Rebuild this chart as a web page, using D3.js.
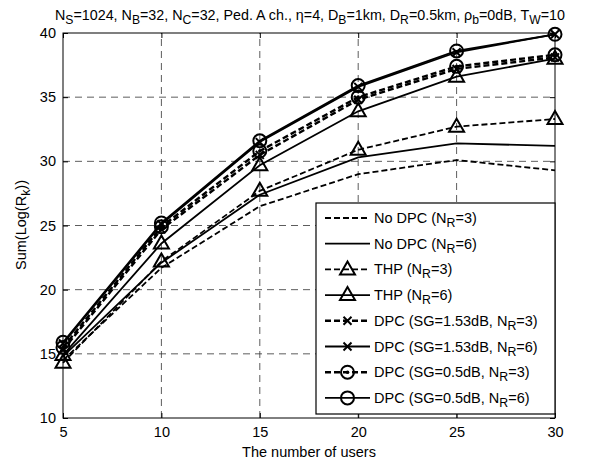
<!DOCTYPE html>
<html>
<head>
<meta charset="utf-8">
<script src="https://cdn.jsdelivr.net/npm/d3@7"></script>
<style>
  body { margin: 0; background: #fff; }
  svg text { font-family: "Liberation Sans", Arial, sans-serif; fill: #000; }
</style>
</head>
<body>
<svg id="chart" width="590" height="464"></svg>
<script>
// data
const users = [5, 10, 15, 20, 25, 30];
const noDpcN3 = [14.5, 21.7, 26.5, 29.0, 30.1, 29.3];
const noDpcN6 = [14.8, 22.1, 27.4, 30.3, 31.4, 31.2];
const thpN3 = [14.3, 22.2, 27.7, 30.9, 32.7, 33.3];
const thpN6 = [14.9, 23.6, 29.7, 33.9, 36.6, 38.0];
const dpc153N3 = [15.3, 24.7, 30.5, 34.8, 37.2, 38.1];
const dpc153N6 = [15.8, 25.1, 31.5, 35.8, 38.5, 39.9];
const dpc05N3 = [15.5, 24.9, 30.8, 35.0, 37.4, 38.3];
const dpc05N6 = [15.9, 25.2, 31.6, 35.9, 38.6, 39.9];

const xTicks = [5, 10, 15, 20, 25, 30];
const yTicks = [10, 15, 20, 25, 30, 35, 40];

const seriesNames = [
  'No DPC (N_{R}=3)', 'No DPC (N_{R}=6)', 'THP (N_{R}=3)', 'THP (N_{R}=6)',
  'DPC (SG=1.53dB, N_{R}=3)', 'DPC (SG=1.53dB, N_{R}=6)',
  'DPC (SG=0.5dB, N_{R}=3)', 'DPC (SG=0.5dB, N_{R}=6)'
];
const seriesValues = [noDpcN3, noDpcN6, thpN3, thpN6, dpc153N3, dpc153N6, dpc05N3, dpc05N6];
const seriesDashed = [true, false, true, false, true, false, true, false];
const seriesMarker = ['none', 'none', 'triangle', 'triangle', 'x', 'x', 'circledot', 'circle'];

const titleText = 'N_{S}=1024, N_{B}=32, N_{C}=32, Ped. A ch., η=4, D_{B}=1km, D_{R}=0.5km, ρ_{b}=0dB, T_{W}=10';

const margin = {left: 63, right: 35, top: 33, bottom: 46};
const width = 590, height = 464;
const fontSize = 14.5;

const svg = d3.select('#chart');

const x = d3.scaleLinear().domain([5, 30]).range([margin.left, width - margin.right]);
const y = d3.scaleLinear().domain([10, 40]).range([height - margin.bottom, margin.top]);

// writes "A_{b}" text with subscripts as tspans
function richText(sel, str) {
  const parts = str.split(/(_\{[^}]*\})/);
  let sub = false;
  parts.forEach(p => {
    if (!p) return;
    if (p.startsWith('_{')) {
      sel.append('tspan').attr('dy', 4).attr('font-size', '0.85em').text(p.slice(2, -1));
      sub = true;
    } else {
      sel.append('tspan').attr('dy', sub ? -4 : 0).text(p);
      sub = false;
    }
  });
  return sel;
}

// grid
const grid = svg.append('g').attr('stroke', '#333').attr('stroke-width', 0.8).attr('stroke-dasharray', '7,5');
grid.selectAll('line.gx').data(xTicks.slice(1, -1)).join('line')
  .attr('x1', d => x(d)).attr('x2', d => x(d))
  .attr('y1', y(10)).attr('y2', y(40));
grid.selectAll('line.gy').data(yTicks.slice(1, -1)).join('line')
  .attr('x1', x(5)).attr('x2', x(30))
  .attr('y1', d => y(d)).attr('y2', d => y(d));

// axes (MATLAB style ticks inward, on all four sides)
svg.append('g').attr('transform', `translate(0,${y(10)})`)
  .call(d3.axisBottom(x).tickValues(xTicks).tickSizeInner(-5).tickSizeOuter(0).tickPadding(9))
  .call(g => g.select('.domain').remove());
svg.append('g').attr('transform', `translate(0,${y(40)})`)
  .call(d3.axisTop(x).tickValues(xTicks).tickSizeInner(-5).tickSizeOuter(0).tickFormat(''))
  .call(g => g.select('.domain').remove());
svg.append('g').attr('transform', `translate(${x(5)},0)`)
  .call(d3.axisLeft(y).tickValues(yTicks).tickSizeInner(-5).tickSizeOuter(0).tickPadding(7))
  .call(g => g.select('.domain').remove());
svg.append('g').attr('transform', `translate(${x(30)},0)`)
  .call(d3.axisRight(y).tickValues(yTicks).tickSizeInner(-5).tickSizeOuter(0).tickFormat(''))
  .call(g => g.select('.domain').remove());
svg.selectAll('.tick text').attr('font-size', fontSize).attr('font-family', '"Liberation Sans", Arial, sans-serif');
svg.selectAll('.tick line').attr('stroke', '#000');

svg.append('rect')
  .attr('x', x(5)).attr('y', y(40))
  .attr('width', x(30) - x(5)).attr('height', y(10) - y(40))
  .attr('fill', 'none').attr('stroke', '#000').attr('stroke-width', 1);

// markers
function drawMarker(g, type, cx, cy) {
  if (type === 'triangle') {
    g.append('path').attr('d', `M${cx},${cy - 8}L${cx + 7.5},${cy + 5}L${cx - 7.5},${cy + 5}Z`)
      .attr('fill', 'none').attr('stroke', '#000').attr('stroke-width', 2);
  } else if (type === 'x') {
    g.append('path').attr('d', `M${cx - 4},${cy - 4}L${cx + 4},${cy + 4}M${cx - 4},${cy + 4}L${cx + 4},${cy - 4}`)
      .attr('stroke', '#000').attr('stroke-width', 2);
  } else if (type === 'circle' || type === 'circledot') {
    g.append('circle').attr('cx', cx).attr('cy', cy).attr('r', 6.5)
      .attr('fill', 'none').attr('stroke', '#000').attr('stroke-width', 2);
    if (type === 'circledot') g.append('circle').attr('cx', cx).attr('cy', cy).attr('r', 1.8).attr('fill', '#000');
  }
}

const line = d3.line().x((d, i) => x(users[i])).y(d => y(d));

seriesValues.forEach((vals, k) => {
  const g = svg.append('g');
  g.append('path').datum(vals)
    .attr('d', line)
    .attr('fill', 'none').attr('stroke', '#000')
    .attr('stroke-width', seriesDashed[k] && k >= 4 ? 2.4 : 1.8)
    .attr('stroke-dasharray', seriesDashed[k] ? '6,3' : null);
  vals.forEach((v, i) => drawMarker(g, seriesMarker[k], x(users[i]), y(v)));
});

// legend
const leg = svg.append('g');
const lx = 316, ly = 203, lw = 239, lh = 211, rowH = 25.7;
leg.append('rect').attr('x', lx).attr('y', ly).attr('width', lw).attr('height', lh)
  .attr('fill', '#fff').attr('stroke', '#000').attr('stroke-width', 1.2);
seriesNames.forEach((name, k) => {
  const cy = ly + 15 + k * rowH;
  const g = leg.append('g');
  g.append('line').attr('x1', lx + 9).attr('x2', lx + 54).attr('y1', cy).attr('y2', cy)
    .attr('stroke', '#000')
    .attr('stroke-width', seriesDashed[k] && k >= 4 ? 2.4 : 1.8)
    .attr('stroke-dasharray', seriesDashed[k] ? '6,3' : null);
  drawMarker(g, seriesMarker[k], lx + 31.5, cy);
  richText(g.append('text').attr('x', lx + 58).attr('y', cy + 5).attr('font-size', fontSize), name);
});

// title and labels
richText(svg.append('text').attr('x', 310).attr('y', 20).attr('text-anchor', 'middle').attr('font-size', 14.3), titleText);
svg.append('text').attr('x', 309).attr('y', 457).attr('text-anchor', 'middle').attr('font-size', fontSize)
  .text('The number of users');
richText(svg.append('text').attr('transform', 'translate(26,225) rotate(-90)')
  .attr('text-anchor', 'middle').attr('font-size', fontSize), 'Sum(Log(R_{k}))');
</script>
</body>
</html>
